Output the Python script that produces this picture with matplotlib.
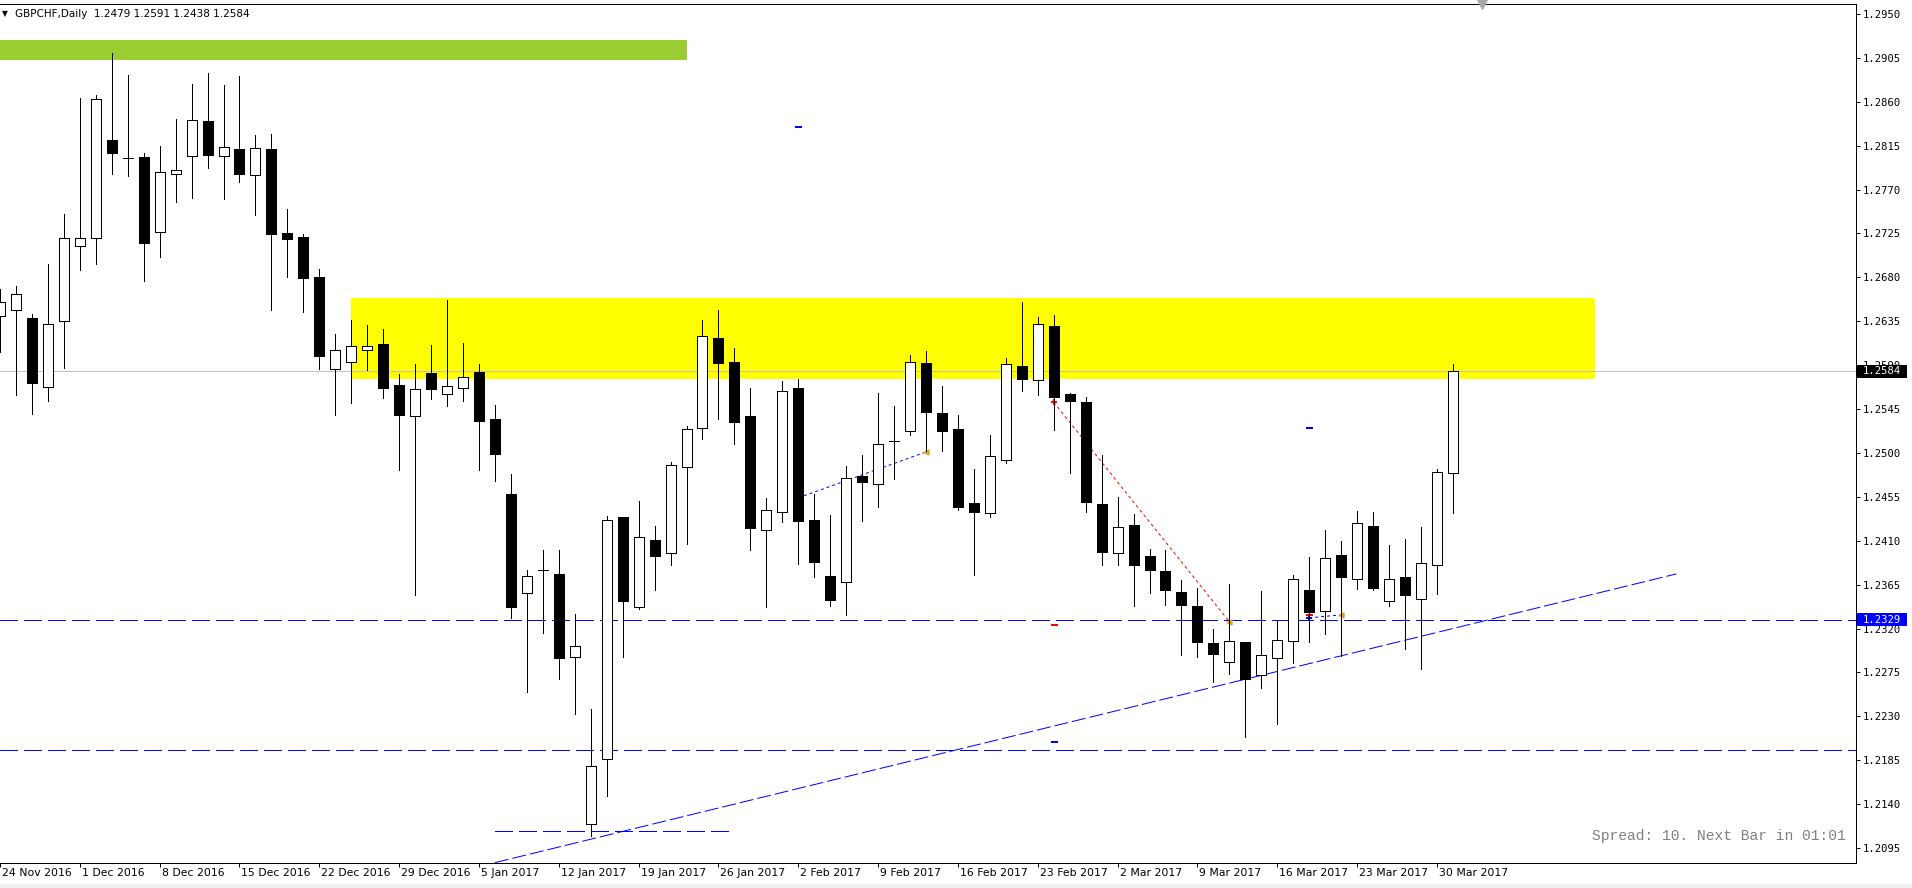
import numpy as np
import pandas as pd
import matplotlib
matplotlib.use('Agg')
import matplotlib.pyplot as plt
from matplotlib.patches import Rectangle
from matplotlib.transforms import blended_transform_factory, ScaledTranslation

plt.rcParams['font.family'] = ['DejaVu Sans']
plt.rcParams['lines.scale_dashes'] = False
plt.rcParams['lines.antialiased'] = False
plt.rcParams['patch.antialiased'] = False

DPI = 100
PX = 72.0 / DPI   # one pixel in points

# daily bars, Mon-Fri, 24 Nov 2016 .. 31 Mar 2017 (x = bar number)
dates = pd.bdate_range('2016-11-24', '2017-03-31')

opens = [1.2640, 1.2647, 1.2638, 1.2568, 1.2635, 1.2712, 1.2720, 1.2821, 1.2802, 1.2803,
         1.2727, 1.2786, 1.2804, 1.2840, 1.2804, 1.2812, 1.2785, 1.2812, 1.2725, 1.2721,
         1.2680, 1.2586, 1.2593, 1.2606, 1.2612, 1.2570, 1.2538, 1.2582, 1.2560, 1.2567,
         1.2583, 1.2535, 1.2458, 1.2356, 1.2380, 1.2376, 1.2291, 1.2120, 1.2186, 1.2434,
         1.2342, 1.2411, 1.2397, 1.2486, 1.2526, 1.2618, 1.2593, 1.2538, 1.2421, 1.2439,
         1.2567, 1.2431, 1.2374, 1.2368, 1.2476, 1.2468, 1.2512, 1.2522, 1.2592, 1.2541,
         1.2525, 1.2449, 1.2438, 1.2493, 1.2589, 1.2575, 1.2630, 1.2560, 1.2552, 1.2448,
         1.2397, 1.2426, 1.2394, 1.2379, 1.2357, 1.2343, 1.2305, 1.2286, 1.2306, 1.2272,
         1.2290, 1.2307, 1.2359, 1.2338, 1.2395, 1.2371, 1.2425, 1.2348, 1.2373, 1.2350,
         1.2385, 1.2479]
highs = [1.2668, 1.2671, 1.2642, 1.2694, 1.2745, 1.2864, 1.2867, 1.2910, 1.2887, 1.2807,
         1.2815, 1.2842, 1.2878, 1.2890, 1.2877, 1.2886, 1.2826, 1.2827, 1.2750, 1.2724,
         1.2689, 1.2622, 1.2636, 1.2631, 1.2627, 1.2581, 1.2591, 1.2611, 1.2657, 1.2613,
         1.2591, 1.2549, 1.2478, 1.2380, 1.2400, 1.2400, 1.2335, 1.2237, 1.2435, 1.2434,
         1.2451, 1.2425, 1.2491, 1.2528, 1.2636, 1.2647, 1.2608, 1.2567, 1.2454, 1.2574,
         1.2576, 1.2458, 1.2436, 1.2487, 1.2498, 1.2561, 1.2548, 1.2600, 1.2604, 1.2569,
         1.2539, 1.2484, 1.2518, 1.2597, 1.2655, 1.2639, 1.2641, 1.2561, 1.2557, 1.2498,
         1.2455, 1.2437, 1.2402, 1.2400, 1.2370, 1.2362, 1.2320, 1.2366, 1.2306, 1.2358,
         1.2329, 1.2375, 1.2393, 1.2421, 1.2410, 1.2440, 1.2439, 1.2406, 1.2412, 1.2424,
         1.2484, 1.2591]
lows = [1.2603, 1.2559, 1.2540, 1.2553, 1.2587, 1.2688, 1.2694, 1.2786, 1.2784, 1.2676,
        1.2701, 1.2757, 1.2761, 1.2792, 1.2760, 1.2778, 1.2744, 1.2647, 1.2680, 1.2644,
        1.2586, 1.2539, 1.2551, 1.2585, 1.2556, 1.2483, 1.2354, 1.2555, 1.2548, 1.2553,
        1.2483, 1.2471, 1.2331, 1.2255, 1.2315, 1.2268, 1.2232, 1.2107, 1.2148, 1.2291,
        1.2340, 1.2360, 1.2385, 1.2407, 1.2514, 1.2535, 1.2509, 1.2400, 1.2342, 1.2429,
        1.2386, 1.2373, 1.2343, 1.2334, 1.2430, 1.2445, 1.2473, 1.2518, 1.2502, 1.2502,
        1.2442, 1.2375, 1.2434, 1.2490, 1.2563, 1.2559, 1.2524, 1.2479, 1.2439, 1.2385,
        1.2385, 1.2343, 1.2356, 1.2344, 1.2293, 1.2291, 1.2265, 1.2273, 1.2209, 1.2259,
        1.2222, 1.2285, 1.2306, 1.2314, 1.2292, 1.2361, 1.2359, 1.2343, 1.2299, 1.2279,
        1.2355, 1.2438]
closes = [1.2655, 1.2663, 1.2572, 1.2632, 1.2720, 1.2720, 1.2863, 1.2807, 1.2802, 1.2715,
          1.2788, 1.2790, 1.2841, 1.2805, 1.2814, 1.2786, 1.2813, 1.2724, 1.2719, 1.2679,
          1.2599, 1.2606, 1.2610, 1.2610, 1.2567, 1.2539, 1.2566, 1.2566, 1.2569, 1.2578,
          1.2533, 1.2499, 1.2342, 1.2374, 1.2380, 1.2290, 1.2302, 1.2179, 1.2431, 1.2348,
          1.2414, 1.2394, 1.2488, 1.2525, 1.2620, 1.2592, 1.2532, 1.2423, 1.2442, 1.2563,
          1.2430, 1.2388, 1.2349, 1.2474, 1.2470, 1.2509, 1.2512, 1.2593, 1.2542, 1.2523,
          1.2445, 1.2439, 1.2497, 1.2591, 1.2576, 1.2632, 1.2557, 1.2553, 1.2450, 1.2398,
          1.2424, 1.2385, 1.2380, 1.2359, 1.2344, 1.2306, 1.2294, 1.2307, 1.2268, 1.2293,
          1.2308, 1.2371, 1.2337, 1.2392, 1.2373, 1.2428, 1.2362, 1.2371, 1.2354, 1.2387,
          1.2480, 1.2584]

price_ticks = [round(1.2095 + 0.0045 * k, 4) for k in range(20)]
date_step = 5

# chart objects (bar number, price)
green_zone_x = [-10.0, 43.0]
green_zone_y = [1.2903, 1.2923]
yellow_zone_x = [22.0, 99.9]
yellow_zone_y = [1.2576, 1.2659]
bid = 1.2584
blue_levels = [1.2329, 1.2195]
short_level_x = [31.0, 45.7]
short_level_y = 1.2112
trend_x = [31.0, 105.0]
trend_y = [1.2080, 1.2376]

buy_open_x = [50, 82]
buy_open_p = [1.2454, 1.2331]
buy_close_x = [58, 84]
buy_close_p = [1.2501, 1.2334]
sell_open_x = [66]
sell_open_p = [1.2552]
sell_close_x = [77]
sell_close_p = [1.2327]
blue_mark_x = [50, 66, 82]
blue_mark_p = [1.2834, 1.2204, 1.2526]
red_mark_x = [66, 82]
red_mark_p = [1.2324, 1.2334]

header = 'GBPCHF,Daily  1.2479 1.2591 1.2438 1.2584'
status = 'Spread: 10. Next Bar in 01:01'

fig = plt.figure(figsize=(19.12, 8.88), dpi=DPI)
ax = fig.add_axes([0.0, 1 - 863 / 888, 1856 / 1912, 859 / 888])
ax.set_xlim(0.25, 116.25)
ax.set_ylim(1.207962, 1.296025)
ppx = (1.296025 - 1.207962) / 859.0   # price per pixel

x = np.arange(len(opens))
o = np.array(opens)
c = np.array(closes)

# zones
ax.add_patch(Rectangle((yellow_zone_x[0], yellow_zone_y[0]), yellow_zone_x[1] - yellow_zone_x[0],
                       yellow_zone_y[1] - yellow_zone_y[0], facecolor='#FFFF00', edgecolor='none', zorder=0.5))
ax.add_patch(Rectangle((green_zone_x[0], green_zone_y[0]), green_zone_x[1] - green_zone_x[0],
                       green_zone_y[1] - green_zone_y[0], facecolor='#9ACD32', edgecolor='none', zorder=0.5))

# lines
dash = (0, (18 * PX, 6 * PX))
ax.axhline(bid, color='#C0C0C0', lw=PX, zorder=1)
for lv in blue_levels:
    ax.axhline(lv, color='#0000FF', lw=PX, ls=dash, zorder=1.2)
ax.plot(short_level_x, [short_level_y] * 2, color='#0000FF', lw=PX, ls=dash, zorder=1.2)
ax.plot(trend_x, trend_y, color='#0000FF', lw=PX, ls=(0, (14 * PX, 4 * PX)), zorder=1.2,
        antialiased=True)

# order history
dots = (0, (3 * PX, 3 * PX))
for xo, po, xc, pc in zip(buy_open_x, buy_open_p, buy_close_x, buy_close_p):
    ax.plot([xo, xc], [po, pc], color='#0000FF', lw=PX, ls=dots, zorder=1.4, antialiased=True)
for xo, po, xc, pc in zip(sell_open_x, sell_open_p, sell_close_x, sell_close_p):
    ax.plot([xo, xc], [po, pc], color='#FF0000', lw=PX, ls=dots, zorder=1.4, antialiased=True)
ax.plot(buy_open_x, buy_open_p, ls='none', marker='+', ms=6 * PX, mew=2 * PX, color='#0000FF', zorder=1.5)
ax.plot(sell_open_x, sell_open_p, ls='none', marker='+', ms=6 * PX, mew=2 * PX, color='#FF0000', zorder=1.5)
ax.plot(buy_close_x + sell_close_x, buy_close_p + sell_close_p, ls='none', marker='<',
        ms=5 * PX, color='#DAA520', zorder=1.5)
ax.plot(blue_mark_x, blue_mark_p, ls='none', marker='_', ms=7 * PX, mew=2 * PX, color='#0000FF', zorder=1.5)
ax.plot(red_mark_x, red_mark_p, ls='none', marker='_', ms=7 * PX, mew=2 * PX, color='#FF0000', zorder=1.5)

# candles
ax.vlines(x, lows, highs, color='black', lw=PX, zorder=2, antialiased=False)
up = c >= o
ax.bar(x[up], (c - o)[up], bottom=o[up], width=0.625, facecolor='white', edgecolor='black', lw=PX, zorder=3)
ax.bar(x[~up], (o - c)[~up], bottom=c[~up], width=0.625, facecolor='black', edgecolor='black', lw=PX, zorder=3)

# axes frame
ax.spines['left'].set_visible(False)
for s in ['top', 'right', 'bottom']:
    ax.spines[s].set_linewidth(PX)

ax.yaxis.tick_right()
ax.set_yticks(price_ticks)
ax.set_yticklabels(['%.4f' % p for p in price_ticks], fontfamily='DejaVu Sans Mono', fontsize=7.6)
ax.tick_params(axis='y', direction='out', length=4 * PX, width=PX, pad=3 * PX)

ax.set_xticks(range(0, len(dates), date_step))
ax.tick_params(axis='x', direction='out', length=4 * PX, width=PX, labelbottom=False)
xt = ax.get_xaxis_transform() + ScaledTranslation(2 / DPI, -5 / DPI, fig.dpi_scale_trans)
for k in range(0, len(dates), date_step):
    d = dates[k]
    ax.text(k, 0, '%d %s' % (d.day, d.strftime('%b %Y')), transform=xt, ha='left', va='top',
            fontsize=7.8, clip_on=False)

# price labels on the scale
tr = blended_transform_factory(ax.transAxes, ax.transData)
for p, col in [(bid, 'black'), (blue_levels[0], '#0000FF')]:
    ax.add_patch(Rectangle((1857 / 1856, p - 6.5 * ppx), 50 / 1856, 13 * ppx, transform=tr,
                           facecolor=col, edgecolor='none', clip_on=False, zorder=10))
    ax.text(1863 / 1856, p, '%.4f' % p, transform=tr, color='white', ha='left', va='center',
            fontfamily='DejaVu Sans Mono', fontsize=7.6, clip_on=False, zorder=11)

# chart shift marker
ax.plot([92.8], [1.0], transform=blended_transform_factory(ax.transData, ax.transAxes),
        marker='v', ms=10 * PX, color='#A9A9A9', clip_on=False, zorder=5)

# header and status text
fig.text(4.5 / 1912, 1 - 14 / 888, '\u25bc', fontsize=5.5, ha='center', va='center')
fig.text(15 / 1912, 1 - 14 / 888, header, fontsize=7.5, ha='left', va='center')
fig.text(1846 / 1912, 1 - 836 / 888, status, fontsize=10.5, ha='right', va='center',
         family='Liberation Mono', color='#808080')

# window edge
fig.add_artist(Rectangle((0, 0), 1, 4 / 888, transform=fig.transFigure, facecolor='#F0F0F0', edgecolor='none'))

fig.savefig('out.png', dpi=DPI)
